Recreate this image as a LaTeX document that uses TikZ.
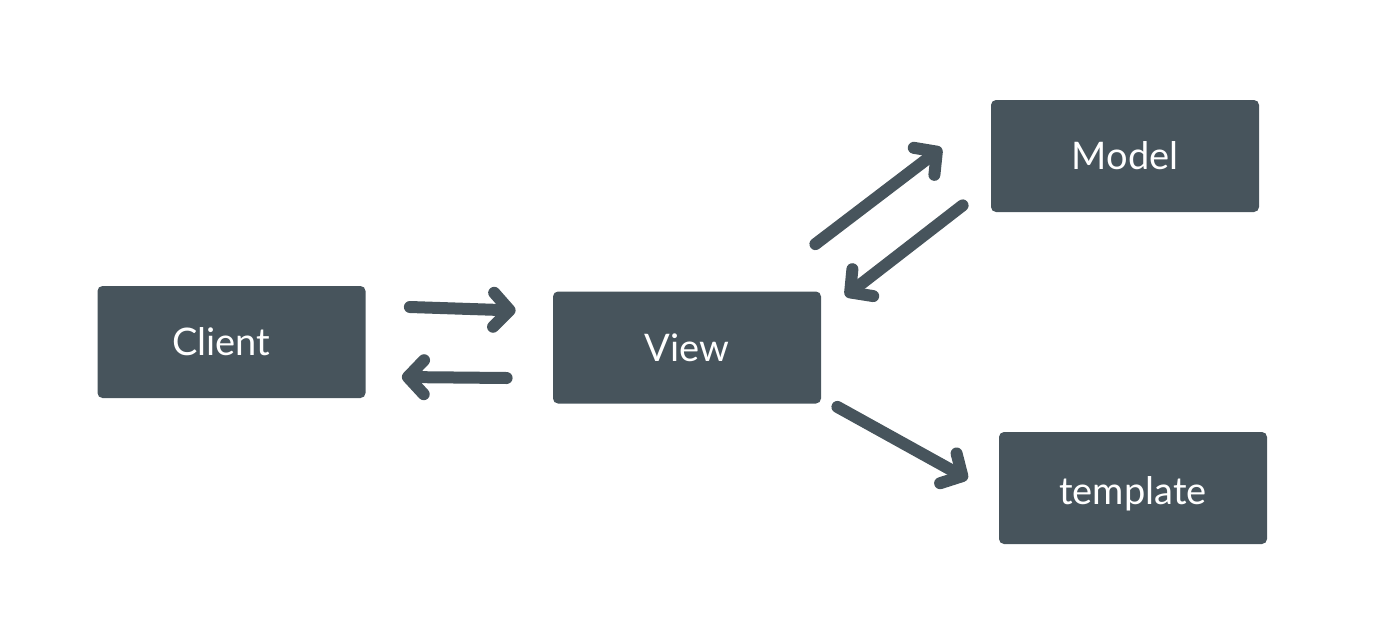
\documentclass[tikz,border=0pt]{standalone}
\usepackage{fontspec}
\setmainfont{Lato}
\usetikzlibrary{arrows.meta,calc}
\definecolor{slate}{HTML}{47545C}
\tikzset{
  box/.style={fill=slate, draw=none, rounded corners=2.5pt, minimum width=134pt, minimum height=56pt, inner sep=0pt, text=white, font=\fontsize{19}{22}\selectfont},
  arr/.style={draw=slate, line width=6pt, line cap=round, line join=round, -{Straight Barb[length=8pt, width=17pt, round]}}
}
\begin{document}
\begin{tikzpicture}[x=0.5pt, y=-0.5pt]
\useasboundingbox (0,0) rectangle (1381,632);
\node[box] (client) at (231.5,342) {\hspace*{-10pt}Client};
\node[box] (view) at (687,347.5) {View};
\node[box] (model) at (1125,156) {Model};
\node[box, text height=18pt, text depth=2pt] (template) at (1133,488) {template};
\draw[arr] ($(client.east)+(44,-35)$) -- ($(view.west)+(-37,-37)$);
\draw[arr] ($(view.west)+(-46,30.5)$) -- ($(client.east)+(36,35)$);
\draw[arr] ($(view.north east)+(-6,-47)$) -- ($(model.west)+(-49,-8)$);
\draw[arr] ($(model.south west)+(-28,-7)$) -- ($(view.north east)+(24,5)$);
\draw[arr] ($(view.south east)+(16,3)$) -- ($(template.west)+(-31,-9)$);
\end{tikzpicture}
\end{document}
